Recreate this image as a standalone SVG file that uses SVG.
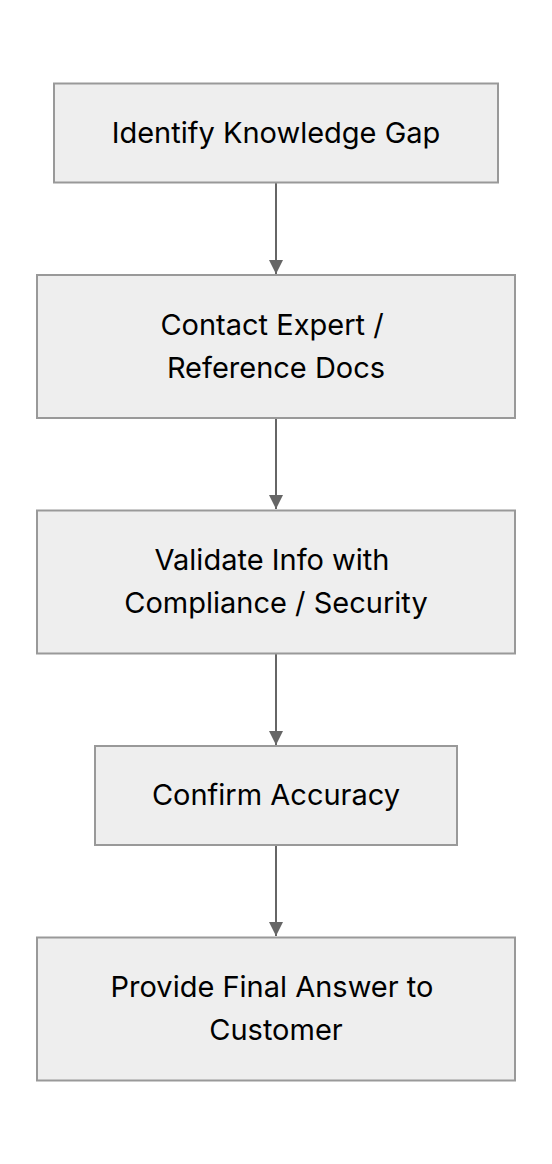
<svg xmlns="http://www.w3.org/2000/svg" width="552" height="1164" viewBox="0 0 552 1164">
<style>
.node rect{fill:#eeeeee;stroke:#999999;stroke-width:2}
.node text{font-family:Inter,"Noto Sans","Liberation Sans",sans-serif;font-size:29px;fill:#000;text-anchor:middle}
.edge{stroke:#666666;stroke-width:2;fill:none}
</style>
<defs>
<marker id="arr" viewBox="0 0 14 14" refX="14" refY="7" markerWidth="14" markerHeight="14" markerUnits="userSpaceOnUse" orient="auto">
<path d="M0,0 L14,7 L0,14 Z" fill="#666666"/>
</marker>
</defs>
<rect width="552" height="1164" fill="#ffffff"/>
<g id="connectors">
<line class="edge" x1="276" y1="183" x2="276" y2="274" marker-end="url(#arr)"/>
<line class="edge" x1="276" y1="418" x2="276" y2="509" marker-end="url(#arr)"/>
<line class="edge" x1="276" y1="654" x2="276" y2="745" marker-end="url(#arr)"/>
<line class="edge" x1="276" y1="846" x2="276" y2="936" marker-end="url(#arr)"/>
</g>
<g id="n1" class="node">
<rect x="54" y="83.5" width="444" height="99"/>
<text x="276" y="143">Identify Knowledge Gap</text>
</g>
<g id="n2" class="node">
<rect x="37" y="275" width="478" height="143"/>
<text x="272" y="335">Contact Expert /</text>
<text x="276" y="378">Reference Docs</text>
</g>
<g id="n3" class="node">
<rect x="37" y="510.5" width="478" height="143"/>
<text x="272" y="570">Validate Info with</text>
<text x="276" y="613">Compliance / Security</text>
</g>
<g id="n4" class="node">
<rect x="95" y="746" width="362" height="99"/>
<text x="276" y="805">Confirm Accuracy</text>
</g>
<g id="n5" class="node">
<rect x="37" y="937.5" width="478" height="143"/>
<text x="272" y="997">Provide Final Answer to</text>
<text x="276" y="1040">Customer</text>
</g>
</svg>
